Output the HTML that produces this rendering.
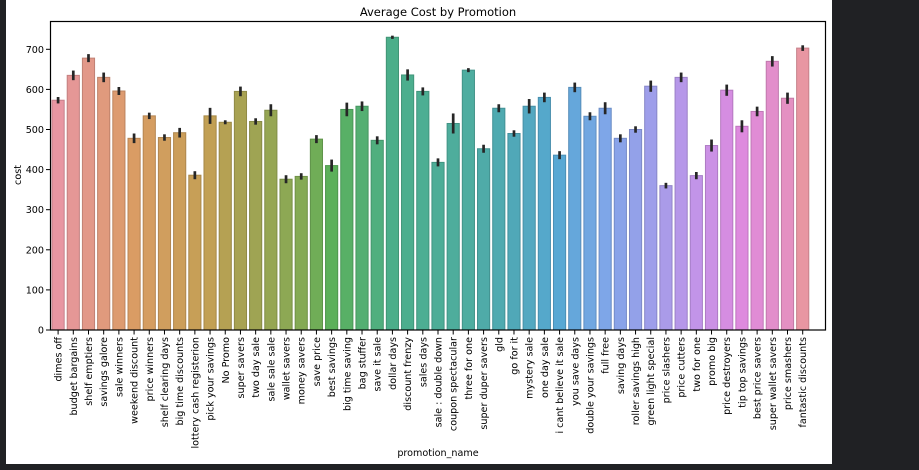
<!DOCTYPE html>
<html><head><meta charset="utf-8"><style>
html,body{margin:0;padding:0;background:#202124;width:919px;height:470px;overflow:hidden}
#p{position:absolute;left:6px;top:0;width:826px;height:464px;background:#fff}
svg{position:absolute;left:0;top:0}
text{font-family:"DejaVu Sans","Liberation Sans",sans-serif;font-size:9.6px;fill:#000}
</style></head><body>
<div id="p"></div>
<svg width="919" height="470" id="s">
<g id="bars"></g>
<g id="xl"></g>
<rect x="50.5" y="21.5" width="775" height="308.5" fill="none" stroke="#000" stroke-width="1.2"/>
<text x="438" y="16" text-anchor="middle" style="font-size:11.5px">Average Cost by Promotion</text>
<text transform="translate(21,175) rotate(-90)" text-anchor="middle">cost</text>
<text x="438" y="456" text-anchor="middle">promotion_name</text>
<g text-anchor="end">
<text x="44" y="333.5">0</text>
<text x="44" y="293.4">100</text>
<text x="44" y="253.3">200</text>
<text x="44" y="213.2">300</text>
<text x="44" y="173.1">400</text>
<text x="44" y="133">500</text>
<text x="44" y="92.9">600</text>
<text x="44" y="52.8">700</text>
</g>
<g stroke="#000" stroke-width="1">
<line x1="46" x2="50.5" y1="330" y2="330"/><line x1="46" x2="50.5" y1="289.9" y2="289.9"/><line x1="46" x2="50.5" y1="249.8" y2="249.8"/><line x1="46" x2="50.5" y1="209.7" y2="209.7"/><line x1="46" x2="50.5" y1="169.6" y2="169.6"/><line x1="46" x2="50.5" y1="129.5" y2="129.5"/><line x1="46" x2="50.5" y1="89.4" y2="89.4"/><line x1="46" x2="50.5" y1="49.3" y2="49.3"/>
</g>
<g id="labels" text-anchor="end">
<text>dimes off</text><text>budget bargains</text><text>shelf emptiers</text><text>savings galore</text><text>sale winners</text><text>weekend discount</text><text>price winners</text><text>shelf clearing days</text><text>big time discounts</text><text>lottery cash registerion</text><text>pick your savings</text><text>No Promo</text><text>super savers</text><text>two day sale</text><text>sale sale sale</text><text>wallet savers</text><text>money savers</text><text>save price</text><text>best savings</text><text>big time saving</text><text>bag stuffer</text><text>save it sale</text><text>dollar days</text><text>discount frenzy</text><text>sales days</text><text>sale : double down</text><text>coupon spectacular</text><text>three for one</text><text>super duper savers</text><text>gld</text><text>go for it</text><text>mystery sale</text><text>one day sale</text><text>i cant believe it sale</text><text>you save days</text><text>double your savings</text><text>full free</text><text>saving days</text><text>roller savings high</text><text>green light special</text><text>price slashers</text><text>price cutters</text><text>two for one</text><text>promo big</text><text>price destroyers</text><text>tip top savings</text><text>best price savers</text><text>super wallet savers</text><text>price smashers</text><text>fantastic discounts</text>
</g>
</svg>
<script>
var v=[573,635,678,630,596,478,534,480,492,386,534,518,595,520,548,376,383,476,410,550,558,473,730,636,595,418,515,648,452,553,490,558,580,436,605,533,553,478,500,608,360,630,385,460,598,508,545,670,578,703];
var e=[8,12,10,12,10,12,8,8,12,10,20,5,12,8,15,10,8,10,15,17,12,10,4,14,10,10,25,5,10,10,8,18,12,10,12,10,15,10,8,14,7,12,9,15,14,15,12,13,14,7];
var kf=[[0,[232,150,162]],[5,[218,156,100]],[10,[194,160,84]],[12,[168,162,82]],[16,[132,170,84]],[18,[92,176,90]],[22,[76,174,138]],[27,[78,173,160]],[30,[80,168,184]],[33,[88,168,212]],[36,[126,166,232]],[39,[158,158,234]],[42,[194,148,232]],[45,[222,138,222]],[48,[228,144,194]],[49,[232,150,162]]];
function col(i){for(var k=0;k<kf.length-1;k++){var a=kf[k],b=kf[k+1];if(i>=a[0]&&i<=b[0]){var t=(i-a[0])/(b[0]-a[0]||1);return a[1].map(function(x,j){return Math.round(x+(b[1][j]-x)*t)})}}return kf[kf.length-1][1];}
var ns="http://www.w3.org/2000/svg",g=document.getElementById('bars'),xl=document.getElementById('xl');
var st=775/51,y0=330,s=0.401;
var labs=document.getElementById('labels').children;
for(var i=0;i<labs.length;i++){
 var c=50.5+st*(i+0.5),val=v[i],cc=col(i);
 var r=document.createElementNS(ns,'rect');
 r.setAttribute('x',c-st*0.4);r.setAttribute('width',st*0.8);
 r.setAttribute('y',y0-val*s);r.setAttribute('height',val*s);
 r.setAttribute('fill','rgb('+cc+')');
 r.setAttribute('stroke','rgb('+cc.map(function(x){return Math.round(x*0.85)})+')');r.setAttribute('stroke-width','1');
 g.appendChild(r);
 var l=document.createElementNS(ns,'line');
 l.setAttribute('x1',c);l.setAttribute('x2',c);l.setAttribute('y1',y0-(val+e[i])*s);l.setAttribute('y2',y0-(val-e[i])*s);
 l.setAttribute('stroke','#262626');l.setAttribute('stroke-width','2.7');g.appendChild(l);
 var t=document.createElementNS(ns,'line');
 t.setAttribute('x1',c);t.setAttribute('x2',c);t.setAttribute('y1',330);t.setAttribute('y2',334.5);t.setAttribute('stroke','#000');xl.appendChild(t);
 labs[i].setAttribute('transform','translate('+(c+3.5)+',337) rotate(-90)');
}
</script>
</body></html>
